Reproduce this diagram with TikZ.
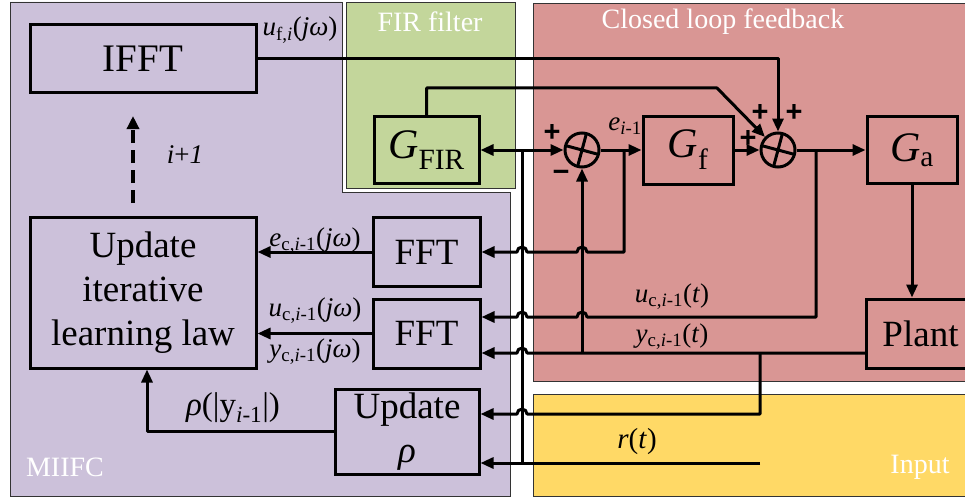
\documentclass[tikz,border=0pt]{standalone}
\usepackage{fontspec}
\setmainfont{Liberation Serif}
\newfontfamily\signfont{Liberation Sans}
\usetikzlibrary{arrows.meta,calc}
\definecolor{purp}{HTML}{CCC1DA}
\definecolor{grnc}{HTML}{C3D69B}
\definecolor{redc}{HTML}{D99694}
\definecolor{yelc}{HTML}{FFD966}
\newcommand{\sbs}[1]{\textsubscript{#1}}
\tikzset{
  region/.style={draw=black!80, line width=0.8pt},
  blk/.style={draw, line width=3pt, inner sep=0pt, align=center},
  sumnode/.style={circle, draw, line width=3pt, minimum size=34pt, inner sep=0pt},
  ln/.style={line width=3pt, line join=round},
  arr/.style={line width=3pt, line join=round, -{Triangle[length=13pt,width=11pt]}},
  darr/.style={line width=3.5pt, -{Triangle[length=13pt,width=12pt]}},
  lbl/.style={font=\fontsize{27}{30}\selectfont, inner sep=0pt},
  wlbl/.style={text=white, font=\fontsize{28}{30}\selectfont, inner sep=0pt},
  sgn/.style={font=\signfont\bfseries\fontsize{29}{29}\selectfont, inner sep=0pt},
  bigtxt/.style={font=\fontsize{37}{44}\selectfont},
  gtxt/.style={font=\fontsize{42}{44}\selectfont}
}
\begin{document}
\begin{tikzpicture}[x=1pt,y=-1pt]
\useasboundingbox (0,0) rectangle (965,500);
% regions
\fill[white] (0,0) rectangle (965,500);
\filldraw[region, fill=purp] (10,2) -- (342,2) -- (342,192) -- (510,192) -- (510,496) -- (10,496) -- cycle;
\filldraw[region, fill=grnc] (346,2) rectangle (515,188);
\filldraw[region, fill=redc] (533,3) rectangle (975,381);
\filldraw[region, fill=yelc] (533,394) rectangle (975,496);
\node[wlbl] (tfir) at (430,22) {FIR filter};
\node[wlbl] (tclf) at (723,22) {Closed loop feedback};
\node[wlbl] (tmiifc) at (65,467) {MIIFC};
\node[wlbl] (tinput) at (920,467) {Input};

% blocks
\node[blk, bigtxt, font=\fontsize{39}{44}\selectfont, minimum width=226pt, minimum height=68pt] (ifft) at (143,59) {IFFT};
\node[blk, gtxt, minimum width=105pt, minimum height=67pt] (gfir) at (426.5,150) {\textit{G}\sbs{FIR}};
\node[blk, gtxt, minimum width=90pt, minimum height=68pt] (gf) at (688,150) {\textit{G}\sbs{f}};
\node[blk, gtxt, minimum width=90pt, minimum height=67pt] (ga) at (912,150) {\textit{G}\sbs{a}};
\node[blk, bigtxt, minimum width=226pt, minimum height=151pt] (upd) at (143,292.5) {Update\\iterative\\learning law};
\node[blk, bigtxt, minimum width=107pt, minimum height=69pt] (fft1) at (426.5,252) {FFT};
\node[blk, bigtxt, minimum width=107pt, minimum height=69pt] (fft2) at (426.5,333.5) {FFT};
\node[blk, bigtxt, minimum width=144pt, minimum height=85pt] (updr) at (407,431.5) {Update\\\textit{ρ}};
\node[blk, bigtxt, minimum width=109pt, minimum height=69pt] (plant) at (920.5,333.5) {Plant};

% summing junctions
\node[sumnode] (s1) at (582,150) {};
\node[sumnode] (s2) at (778,150) {};
\foreach \s in {s1,s2}{
  \draw[line width=3pt] (\s.center) ++(195:17) -- ++(15:34);
  \draw[line width=3pt] (\s.center) ++(285:17) -- ++(105:34);
}

% coordinates
\coordinate (rj) at (522,150);
\coordinate (rsrc) at (760,463);
\coordinate (ej) at (624,150);
\coordinate (ec) at (624,252);
\coordinate (uj) at (816,150);
\coordinate (uc) at (816,317);
\coordinate (yo) at (866,353);
\coordinate (yb1) at (760,353);
\coordinate (yb2) at (760,414);
\coordinate (yf) at (582,353);
\coordinate (firc) at (717,88);
\coordinate (dtop) at (133,116);
\coordinate (dbot) at (133,203);

% connectors
\draw[arr] (ifft.east) -| (s2.north);
\draw[arr] (gfir.north) |- (firc) -- (s2.north west);
\draw[arr] (rj) -- (gfir.east);
\draw[arr] (rj) -- (s1.west);
\draw[ln] (rsrc -| rj) -- (rj);
\draw[arr] (rsrc) -- (rsrc -| updr.east);
\draw[arr] (s1.east) -- (gf.west);
\draw[arr] (gf.east) -- (s2.west);
\draw[arr] (s2.east) -- (ga.west);
\draw[arr] (ga.south) -- (ga.south |- plant.north);
\draw[arr] (ej) -- (ec) -- (587,252) arc[start angle=0,end angle=180,radius=5pt] -- (527,252) arc[start angle=0,end angle=180,radius=5pt] -- (ec -| fft1.east);
\draw[arr] (uj) -- (uc) -- (587,317) arc[start angle=0,end angle=180,radius=5pt] -- (527,317) arc[start angle=0,end angle=180,radius=5pt] -- (uc -| fft2.east);
\draw[arr] (yo) -- (527,353) arc[start angle=0,end angle=180,radius=5pt] -- (yo -| fft2.east);
\draw[arr] (yf) -- (s1.south);
\draw[arr] (yb1) -- (yb2) -- (527,414) arc[start angle=0,end angle=180,radius=5pt] -- (yb2 -| updr.east);
\draw[arr] (fft1.west) -- (fft1.west -| upd.east);
\draw[arr] (fft2.west) -- (fft2.west -| upd.east);
\draw[arr] (updr.west) -| ([xshift=4pt]upd.south);
\draw[darr, dash pattern=on 13pt off 7pt] (dbot) -- (dtop);

% labels
\node[lbl] (luf) at (300,30) {\textit{u}\sbs{f,\textit{i}}(\textit{jω})};
\node[lbl] (lip) at (185,155) {\textit{i}+\textit{1}};
\node[lbl] (le) at (625,126) {\textit{e}\sbs{\textit{i}-1}};
\node[lbl] (lec) at (315,241) {\textit{e}\sbs{c,\textit{i}-1}(\textit{jω})};
\node[lbl] (luc) at (315,311) {\textit{u}\sbs{c,\textit{i}-1}(\textit{jω})};
\node[lbl] (lyc) at (315,352) {\textit{y}\sbs{c,\textit{i}-1}(\textit{jω})};
\node[lbl, font=\fontsize{33}{36}\selectfont] (lrho) at (233,408) {\textit{ρ}(|y\sbs{\textit{i}-1}|)};
\node[lbl] (luct) at (672,297) {\textit{u}\sbs{c,\textit{i}-1}(\textit{t})};
\node[lbl] (lyct) at (672,337) {\textit{y}\sbs{c,\textit{i}-1}(\textit{t})};
\node[lbl, font=\fontsize{29}{30}\selectfont] (lr) at (637,442) {\textit{r}(\textit{t})};

% signs
\node[sgn] (p1) at (552,133) {+};
\node[sgn] (m1) at (561,176) {−};
\node[sgn] (p2) at (760,113) {+};
\node[sgn] (p3) at (794,113) {+};
\node[sgn] (p4) at (748,139) {+};
\end{tikzpicture}
\end{document}
